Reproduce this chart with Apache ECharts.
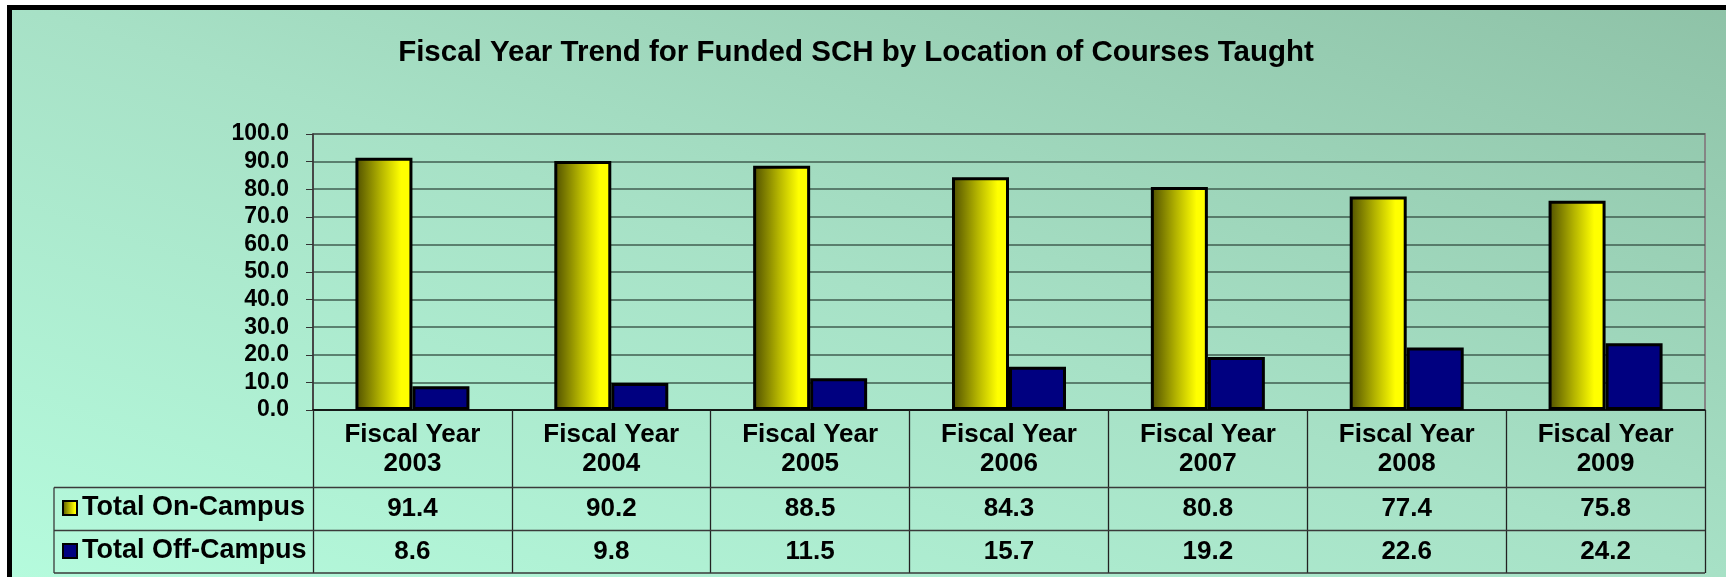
<!DOCTYPE html>
<html>
<head>
<meta charset="utf-8">
<title>Fiscal Year Trend for Funded SCH</title>
<script src="https://cdn.jsdelivr.net/npm/echarts@6/dist/echarts.min.js"></script>
<style>
    html, body {margin: 0; padding: 0; background: #fff;}
    #echarts {width: 1726px; height: 577px;}
</style>
</head>
<body>
<div id="echarts"></div>
<script>
var years = ['2003', '2004', '2005', '2006', '2007', '2008', '2009'];
var onCampus = [91.4, 90.2, 88.5, 84.3, 80.8, 77.4, 75.8];
var offCampus = [8.6, 9.8, 11.5, 15.7, 19.2, 22.6, 24.2];
var seriesNames = ['Total On-Campus', 'Total Off-Campus'];

var font = 'Liberation Sans, Arial, sans-serif';
var gridLeft = 313, gridRight = 21, gridTop = 134, gridBottom = 167;
var tableLeft = 54, rowLines = [487.5, 530.5, 573];
var tableRight = 1726 - gridRight;

var bg = {
    type: 'linear', x: 0, y: 577, x2: 347, y2: -461, global: true,
    colorStops: [
        {offset: 0, color: '#b5fbdd'},
        {offset: 0.5, color: '#a7e1c6'},
        {offset: 1, color: '#8ec2a7'}
    ]
};
var yellow = {
    type: 'linear', x: 0, y: 0, x2: 1, y2: 0,
    colorStops: [
        {offset: 0, color: '#4e4e00'},
        {offset: 0.45, color: '#b5b500'},
        {offset: 0.8, color: '#ffff00'},
        {offset: 1, color: '#ffff00'}
    ]
};

var graphics = [{
    type: 'rect', z: -10,
    shape: {x: 9.5, y: 7.5, width: 1900, height: 800},
    style: {fill: bg, stroke: '#000', lineWidth: 5}
}];
rowLines.forEach(function (y) {
    graphics.push({
        type: 'line', z: 10,
        shape: {x1: tableLeft, y1: y, x2: tableRight, y2: y},
        style: {stroke: '#3a3a3a', lineWidth: 1.3}
    });
});
graphics.push({
    type: 'line', z: 10,
    shape: {x1: tableLeft, y1: rowLines[0], x2: tableLeft, y2: rowLines[2]},
    style: {stroke: '#3a3a3a', lineWidth: 1.3}
});

var labelText = {color: '#000', fontFamily: font, fontWeight: 'bold', fontSize: 26};

var option = {
    backgroundColor: '#fff',
    animation: false,
    title: {
        text: 'Fiscal Year Trend for Funded SCH by Location of Courses Taught',
        left: 856, top: 38, textAlign: 'center', padding: 0,
        textStyle: {color: '#000', fontFamily: font, fontWeight: 'bold', fontSize: 29.5}
    },
    legend: {
        data: seriesNames,
        orient: 'vertical',
        icon: 'rect',
        left: 62, top: 493, padding: 0,
        itemWidth: 14, itemHeight: 14, itemGap: 13,
        textStyle: {color: '#000', fontFamily: font, fontWeight: 'bold', fontSize: 27, lineHeight: 30}
    },
    graphic: {elements: graphics},
    grid: {
        left: gridLeft, right: gridRight, top: gridTop, bottom: gridBottom,
        show: true, borderColor: '#858585', borderWidth: 2, backgroundColor: 'transparent'
    },
    xAxis: [{
        type: 'category',
        data: years.map(function (y) { return 'Fiscal Year\n' + y; }),
        axisLine: {lineStyle: {color: '#000', width: 1.5}},
        axisTick: {show: true, length: 163, interval: 0, lineStyle: {color: '#222', width: 1.3}},
        axisLabel: Object.assign({margin: 10, lineHeight: 29, interval: 0}, labelText)
    }, {
        type: 'category', position: 'bottom', offset: 77,
        data: onCampus.map(function (v) { return v.toFixed(1); }),
        axisLine: {show: false}, axisTick: {show: false},
        axisLabel: Object.assign({margin: 9, lineHeight: 26, interval: 0}, labelText)
    }, {
        type: 'category', position: 'bottom', offset: 120,
        data: offCampus.map(function (v) { return v.toFixed(1); }),
        axisLine: {show: false}, axisTick: {show: false},
        axisLabel: Object.assign({margin: 9, lineHeight: 26, interval: 0}, labelText)
    }],
    yAxis: {
        type: 'value', min: 0, max: 100, interval: 10,
        axisLine: {show: true, lineStyle: {color: '#333', width: 1.5}},
        axisTick: {show: true, length: 7, lineStyle: {color: '#333'}},
        axisLabel: {
            margin: 24, color: '#000', fontFamily: font, fontWeight: 'bold', fontSize: 23,
            formatter: function (v) { return v.toFixed(1); }
        },
        splitLine: {lineStyle: {color: '#405e50', width: 1.5}}
    },
    series: [{
        name: seriesNames[0],
        type: 'bar',
        data: onCampus,
        barWidth: 57,
        barGap: '0%',
        itemStyle: {color: yellow, borderColor: '#000', borderWidth: 3}
    }, {
        name: seriesNames[1],
        type: 'bar',
        data: offCampus,
        barWidth: 57,
        itemStyle: {color: '#000080', borderColor: '#000', borderWidth: 3}
    }]
};

var myChart = echarts.init(document.getElementById('echarts'));
myChart.setOption(option);
</script>
</body>
</html>
